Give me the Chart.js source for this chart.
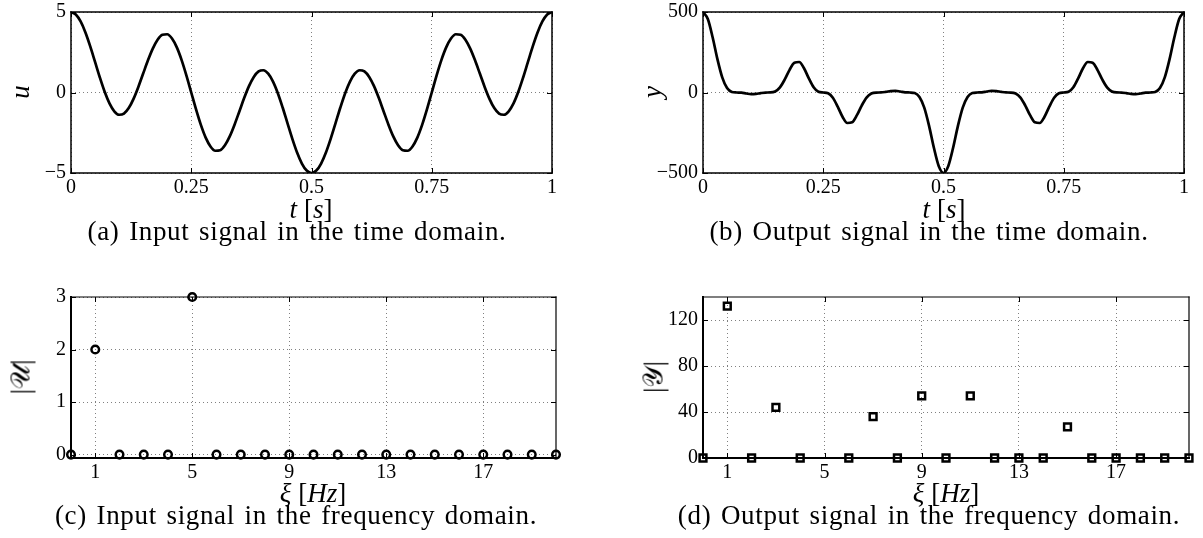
<!DOCTYPE html>
<html>
<head>
<meta charset="utf-8">
<title>Input and output signals</title>
<script src="https://cdn.jsdelivr.net/npm/chart.js@4.4.1/dist/chart.umd.min.js"></script>
<style>
  html, body { margin: 0; padding: 0; background: #fff; }
  #wrap { position: relative; width: 1203px; height: 538px; overflow: hidden;
          font-family: "Liberation Serif", "Times New Roman", serif; color: #000; }
  canvas { position: absolute; left: 0; top: 0; }
  .cap { position: absolute; white-space: nowrap; font-size: 27px; line-height: 1;
         letter-spacing: 0.66px; word-spacing: 2.25px; transform: translateX(-50%); }
  .ax { position: absolute; white-space: nowrap; font-size: 27px; line-height: 1;
        transform: translateX(-50%); }
  .ylab { position: absolute; white-space: nowrap; font-size: 27px; line-height: 1;
          transform: translate(-50%, -50%) rotate(-90deg); }
  i { font-style: italic; }
</style>
</head>
<body>
<div id="wrap">
  <canvas id="chartU" width="1203" height="538"></canvas>
  <canvas id="chartY" width="1203" height="538"></canvas>
  <canvas id="chartUf" width="1203" height="538"></canvas>
  <canvas id="chartYf" width="1203" height="538"></canvas>

  <div class="ylab" style="left:20px; top:92px;"><i>u</i></div>
  <div class="ax" style="left:311px; top:196px;"><i>t</i> [<i>s</i>]</div>
  <div class="cap" style="left:297px; top:218px;">(a) Input signal in the time domain.</div>

  <div class="ylab" style="left:652px; top:92px;"><i>y</i></div>
  <div class="ax" style="left:944px; top:196px;"><i>t</i> [<i>s</i>]</div>
  <div class="cap" style="left:929px; top:218px;">(b) Output signal in the time domain.</div>

  <div class="ylab" style="left:21px; top:377px;">|𝒰|</div>
  <div class="ax" style="left:313px; top:480px;"><i>ξ</i> [<i>Hz</i>]</div>
  <div class="cap" style="left:296px; top:502px;">(c) Input signal in the frequency domain.</div>

  <div class="ylab" style="left:654px; top:377px;">|𝒴|</div>
  <div class="ax" style="left:946px; top:480px;"><i>ξ</i> [<i>Hz</i>]</div>
  <div class="cap" style="left:929px; top:502px;">(d) Output signal in the frequency domain.</div>
</div>

<script>
// Time samples [s]
const T = [0, 0.01, 0.02, 0.03, 0.04, 0.05, 0.06, 0.07, 0.08, 0.09,
  0.1, 0.11, 0.12, 0.13, 0.14, 0.15, 0.16, 0.17, 0.18, 0.19,
  0.2, 0.21, 0.22, 0.23, 0.24, 0.25, 0.26, 0.27, 0.28, 0.29,
  0.3, 0.31, 0.32, 0.33, 0.34, 0.35, 0.36, 0.37, 0.38, 0.39,
  0.4, 0.41, 0.42, 0.43, 0.44, 0.45, 0.46, 0.47, 0.48, 0.49,
  0.5, 0.51, 0.52, 0.53, 0.54, 0.55, 0.56, 0.57, 0.58, 0.59,
  0.6, 0.61, 0.62, 0.63, 0.64, 0.65, 0.66, 0.67, 0.68, 0.69,
  0.7, 0.71, 0.72, 0.73, 0.74, 0.75, 0.76, 0.77, 0.78, 0.79,
  0.8, 0.81, 0.82, 0.83, 0.84, 0.85, 0.86, 0.87, 0.88, 0.89,
  0.9, 0.91, 0.92, 0.93, 0.94, 0.95, 0.96, 0.97, 0.98, 0.99, 1];

// Input signal u(t)
const U = [5, 4.849, 4.411, 3.728, 2.864, 1.902, 0.933, 0.046, -0.674, -1.165,
  -1.382, -1.312, -0.969, -0.394, 0.348, 1.176, 1.999, 2.727, 3.279, 3.589,
  3.618, 3.351, 2.802, 2.014, 1.053, 0, -1.053, -2.014, -2.802, -3.351,
  -3.618, -3.589, -3.279, -2.727, -1.999, -1.176, -0.348, 0.394, 0.969, 1.312,
  1.382, 1.165, 0.674, -0.046, -0.933, -1.902, -2.864, -3.728, -4.411, -4.849,
  -5, -4.849, -4.411, -3.728, -2.864, -1.902, -0.933, -0.046, 0.674, 1.165,
  1.382, 1.312, 0.969, 0.394, -0.348, -1.176, -1.999, -2.727, -3.279, -3.589,
  -3.618, -3.351, -2.802, -2.014, -1.053, 0, 1.053, 2.014, 2.802, 3.351,
  3.618, 3.589, 3.279, 2.727, 1.999, 1.176, 0.348, -0.394, -0.969, -1.312,
  -1.382, -1.165, -0.674, 0.046, 0.933, 1.902, 2.864, 3.728, 4.411, 4.849, 5];

// Output signal y(t)
const Y = [500, 456.1, 343.4, 207.2, 94.0, 27.5, 3.2, 0.0, -1.2, -6.3,
  -10.6, -9.0, -3.6, -0.2, 0.2, 6.5, 31.9, 81.1, 141.0, 185.0,
  189.4, 150.5, 88.0, 32.7, 4.7, 0, -4.7, -32.7, -88.0, -150.5,
  -189.4, -185.0, -141.0, -81.1, -31.9, -6.5, -0.2, 0.2, 3.6, 9.0,
  10.6, 6.3, 1.2, 0.0, -3.2, -27.5, -94.0, -207.2, -343.4, -456.1,
  -500, -456.1, -343.4, -207.2, -94.0, -27.5, -3.2, 0.0, 1.2, 6.3,
  10.6, 9.0, 3.6, 0.2, -0.2, -6.5, -31.9, -81.1, -141.0, -185.0,
  -189.4, -150.5, -88.0, -32.7, -4.7, 0, 4.7, 32.7, 88.0, 150.5,
  189.4, 185.0, 141.0, 81.1, 31.9, 6.5, 0.2, -0.2, -3.6, -9.0,
  -10.6, -6.3, -1.2, 0.0, 3.2, 27.5, 94.0, 207.2, 343.4, 456.1, 500];

// Frequency bins [Hz] and spectrum magnitudes
const XI = [0, 1, 2, 3, 4, 5, 6, 7, 8, 9, 10, 11, 12, 13, 14, 15, 16, 17, 18, 19, 20];
const U_MAG = [0, 2, 0, 0, 0, 3, 0, 0, 0, 0, 0, 0, 0, 0, 0, 0, 0, 0, 0, 0, 0];
const Y_MAG = [0, 132, 0, 44, 0, 153, 0, 36, 0, 54, 0, 54, 0, 0, 0, 27, 0, 0, 0, 0, 0];

// Tick positions
const TIME_TICKS = [0, 0.25, 0.5, 0.75, 1];
const U_TICKS = [-5, 0, 5];
const Y_TICKS = [-500, 0, 500];
const XI_TICKS = [1, 5, 9, 13, 17];
const U_MAG_TICKS = [0, 1, 2, 3];
const Y_MAG_TICKS = [0, 40, 80, 120];

const W = 1203, H = 538;
const AXIS_W = 60, AXIS_H = 40;
const TICK_FONT = { family: '"Liberation Serif", serif', size: 20 };
const GRID_COLOR = '#808080';

const fmt = v => (v < 0 ? '\u2212' + Math.abs(v) : String(v));
const pairs = (xs, ys) => xs.map((x, i) => ({ x, y: ys[i] }));

// Box around the plotting area with short inward tick marks on all four sides
const framePlugin = {
  id: 'frame',
  beforeDatasetsDraw(chart, args, opts) {
    const { ctx, chartArea: a, scales: { x, y } } = chart;
    const L = 5;
    ctx.save();
    ctx.strokeStyle = '#000';
    ctx.lineWidth = 1;
    ctx.beginPath();
    x.ticks.forEach(t => {
      const p = Math.round(x.getPixelForValue(t.value)) + 0.5;
      ctx.moveTo(p, a.bottom); ctx.lineTo(p, a.bottom - L);
      ctx.moveTo(p, a.top); ctx.lineTo(p, a.top + L);
    });
    y.ticks.forEach(t => {
      const p = Math.round(y.getPixelForValue(t.value)) + 0.5;
      ctx.moveTo(a.left, p); ctx.lineTo(a.left + L, p);
      ctx.moveTo(a.right, p); ctx.lineTo(a.right - L, p);
    });
    ctx.stroke();
    const side = (w, x1, y1, x2, y2) => {
      ctx.lineWidth = w;
      ctx.beginPath(); ctx.moveTo(x1, y1); ctx.lineTo(x2, y2); ctx.stroke();
    };
    const lb = opts.leftBottom, tr = opts.topRight;
    ctx.lineCap = 'square';
    side(lb, a.left, a.top, a.left, a.bottom);
    side(lb, a.left, a.bottom, a.right, a.bottom);
    side(tr, a.left, a.top, a.right, a.top);
    side(tr, a.right, a.top, a.right, a.bottom);
    ctx.restore();
  }
};

function axis(min, max, ticks, horizontal) {
  return {
    type: 'linear', min, max,
    afterBuildTicks: s => { s.ticks = ticks.map(v => ({ value: v })); },
    afterFit: s => {
      if (horizontal) { s.height = AXIS_H; s.paddingLeft = 0; s.paddingRight = 0; }
      else { s.width = AXIS_W; s.paddingTop = 0; s.paddingBottom = 0; }
    },
    grid: { color: GRID_COLOR, lineWidth: 1, drawTicks: false },
    border: { display: false, dash: [1, 3] },
    ticks: {
      color: '#000', font: TICK_FONT, padding: horizontal ? 3 : 5,
      autoSkip: false, maxRotation: 0, callback: v => fmt(v)
    }
  };
}

function makeChart(id, area, datasets, xs, ys, frame) {
  return new Chart(document.getElementById(id), {
    type: 'scatter',
    data: { datasets },
    options: {
      responsive: false, animation: false, devicePixelRatio: 1, events: [],
      layout: { autoPadding: false, padding: {
        left: area.left - AXIS_W, top: area.top,
        right: W - area.right, bottom: H - area.bottom - AXIS_H } },
      plugins: { legend: { display: false }, tooltip: { enabled: false }, frame },
      scales: { x: xs, y: ys }
    },
    plugins: [framePlugin]
  });
}

const lineSet = (xs, ys) => ({
  data: pairs(xs, ys), showLine: true, borderColor: '#000', borderWidth: 2.7,
  pointRadius: 0, cubicInterpolationMode: 'monotone', fill: false
});

// (a) input signal in time
makeChart('chartU', { left: 71, top: 12, right: 552, bottom: 173 },
  [lineSet(T, U)],
  axis(0, 1, TIME_TICKS, true), axis(-5, 5, U_TICKS, false),
  { leftBottom: 1.5, topRight: 1.5 });

// (b) output signal in time
makeChart('chartY', { left: 703, top: 12, right: 1184, bottom: 173 },
  [lineSet(T, Y)],
  axis(0, 1, TIME_TICKS, true), axis(-500, 500, Y_TICKS, false),
  { leftBottom: 1.5, topRight: 1.5 });

// (c) input spectrum
makeChart('chartUf', { left: 71, top: 297, right: 556, bottom: 458 },
  [{ data: pairs(XI, U_MAG), showLine: false, pointStyle: 'circle', pointRadius: 3.8,
     pointBorderWidth: 2.5, pointBorderColor: '#000', pointBackgroundColor: 'rgba(0,0,0,0)',
     clip: 10 }],
  axis(0, 20, XI_TICKS, true), axis(-0.065, 3, U_MAG_TICKS, false),
  { leftBottom: 2, topRight: 1.2 });

// (d) output spectrum
makeChart('chartYf', { left: 703, top: 297, right: 1189, bottom: 458 },
  [{ data: pairs(XI, Y_MAG), showLine: false, pointStyle: 'rect', pointRadius: 4.8,
     pointBorderWidth: 2.5, pointBorderColor: '#000', pointBackgroundColor: 'rgba(0,0,0,0)',
     clip: 8 }],
  axis(0, 20, XI_TICKS, true), axis(0, 140, Y_MAG_TICKS, false),
  { leftBottom: 2, topRight: 1.2 });
</script>
</body>
</html>
